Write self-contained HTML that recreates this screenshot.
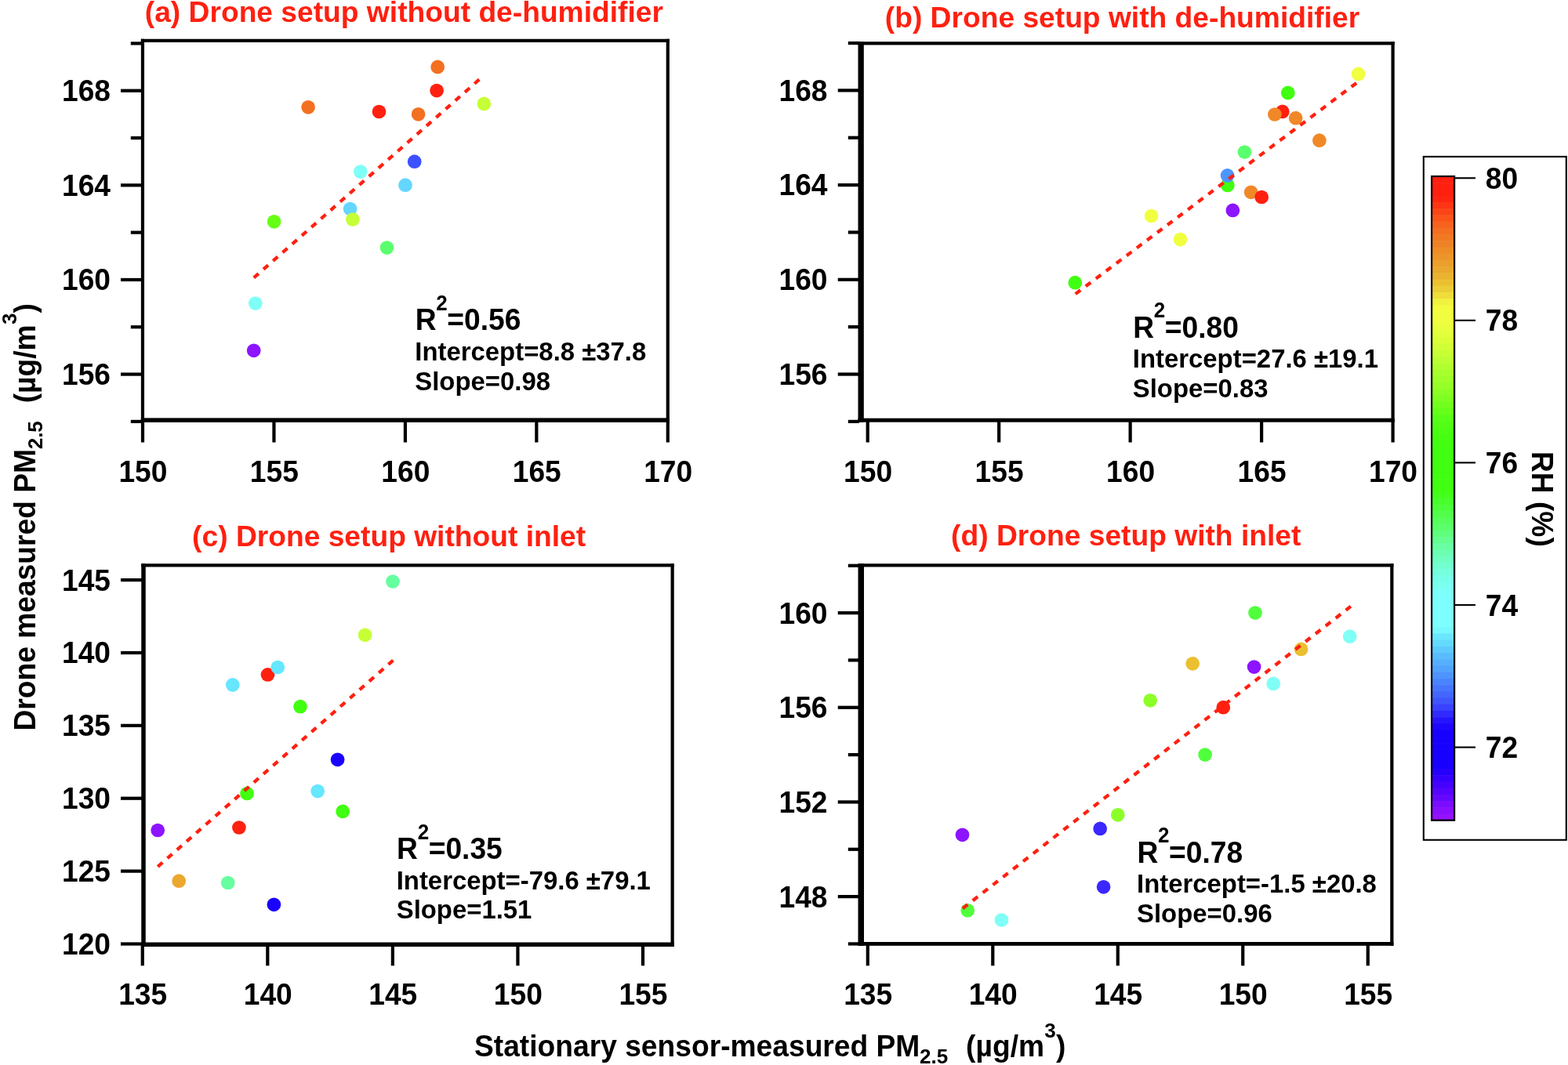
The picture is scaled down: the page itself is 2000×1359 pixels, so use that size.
<!DOCTYPE html>
<html lang="en">
<head>
<meta charset="utf-8">
<title>Drone vs stationary sensor PM2.5</title>
<style>
html,body{margin:0;padding:0;background:#fff;}
body{width:2000px;height:1359px;overflow:hidden;}
svg{display:block;font-family:"Liberation Sans",sans-serif;font-weight:bold;}
</style>
</head>
<body>
<svg width="2000" height="1359" viewBox="0 0 2000 1359">
<rect x="0" y="0" width="2000" height="1359" fill="#fff"/>
<g id="panel-a">
<circle cx="558.2" cy="85.4" r="8.85" fill="#f37021"/>
<circle cx="557.1" cy="115.6" r="8.85" fill="#ff2010"/>
<circle cx="393.1" cy="136.8" r="8.85" fill="#f37021"/>
<circle cx="483.5" cy="142.5" r="8.85" fill="#ff2010"/>
<circle cx="533.6" cy="145.8" r="8.85" fill="#f37021"/>
<circle cx="617.3" cy="132.4" r="8.85" fill="#c6ff36"/>
<circle cx="528.7" cy="206.2" r="8.85" fill="#3c50ff"/>
<circle cx="459.8" cy="219.1" r="8.85" fill="#80fff6"/>
<circle cx="517.0" cy="236.2" r="8.85" fill="#64d6ff"/>
<circle cx="446.6" cy="266.6" r="8.85" fill="#64d6ff"/>
<circle cx="449.9" cy="280.0" r="8.85" fill="#c6ff36"/>
<circle cx="349.6" cy="282.8" r="8.85" fill="#64ff14"/>
<circle cx="493.5" cy="316.1" r="8.85" fill="#5aff6e"/>
<circle cx="325.8" cy="387.1" r="8.85" fill="#80fff6"/>
<circle cx="323.7" cy="447.3" r="8.85" fill="#8c14ff"/>
<line x1="323.8" y1="354.4" x2="611.7" y2="101.1" stroke="#ff2010" stroke-width="4.3" stroke-dasharray="8.0 8.3"/>
<rect x="179.85" y="49.75" width="4.20" height="489.15" fill="#000"/>
<rect x="179.85" y="49.75" width="674.05" height="4.20" fill="#000"/>
<rect x="849.70" y="49.75" width="4.20" height="489.15" fill="#000"/>
<rect x="179.85" y="533.40" width="674.05" height="5.50" fill="#000"/>
<rect x="154.00" y="475.49" width="27.00" height="4.20" fill="#000"/>
<rect x="154.00" y="354.86" width="27.00" height="4.20" fill="#000"/>
<rect x="154.00" y="234.24" width="27.00" height="4.20" fill="#000"/>
<rect x="154.00" y="113.61" width="27.00" height="4.20" fill="#000"/>
<rect x="166.80" y="535.80" width="14.20" height="4.20" fill="#000"/>
<rect x="166.80" y="415.17" width="14.20" height="4.20" fill="#000"/>
<rect x="166.80" y="294.55" width="14.20" height="4.20" fill="#000"/>
<rect x="166.80" y="173.93" width="14.20" height="4.20" fill="#000"/>
<rect x="166.80" y="53.30" width="14.20" height="4.20" fill="#000"/>
<rect x="179.90" y="535.00" width="4.20" height="29.50" fill="#000"/>
<rect x="347.35" y="535.00" width="4.20" height="29.50" fill="#000"/>
<rect x="514.80" y="535.00" width="4.20" height="29.50" fill="#000"/>
<rect x="682.25" y="535.00" width="4.20" height="29.50" fill="#000"/>
<rect x="849.70" y="535.00" width="4.20" height="29.50" fill="#000"/>
<text transform="translate(141.00 490.99) scale(1 1.025)" font-size="37.2" text-anchor="end" fill="#000">156</text>
<text transform="translate(141.00 370.36) scale(1 1.025)" font-size="37.2" text-anchor="end" fill="#000">160</text>
<text transform="translate(141.00 249.74) scale(1 1.025)" font-size="37.2" text-anchor="end" fill="#000">164</text>
<text transform="translate(141.00 129.11) scale(1 1.025)" font-size="37.2" text-anchor="end" fill="#000">168</text>
<text transform="translate(182.40 614.60) scale(1 1.025)" font-size="37.2" text-anchor="middle" fill="#000">150</text>
<text transform="translate(349.85 614.60) scale(1 1.025)" font-size="37.2" text-anchor="middle" fill="#000">155</text>
<text transform="translate(517.30 614.60) scale(1 1.025)" font-size="37.2" text-anchor="middle" fill="#000">160</text>
<text transform="translate(684.75 614.60) scale(1 1.025)" font-size="37.2" text-anchor="middle" fill="#000">165</text>
<text transform="translate(852.20 614.60) scale(1 1.025)" font-size="37.2" text-anchor="middle" fill="#000">170</text>
<text transform="translate(184.80 27.80) scale(1 1.015)" font-size="37.2" text-anchor="start" fill="#ff2010">(a) Drone setup without de-humidifier</text>
<text transform="translate(528.90 421.20) scale(1 1.03)" font-size="37.2"><tspan x="0.8" y="0">R</tspan><tspan x="27.35" y="-24.47" font-size="26.0">2</tspan><tspan x="41.4" y="0">=0.56</tspan></text>
<text transform="translate(529.30 459.50) scale(1 1.015)" font-size="32.9" text-anchor="start" fill="#000">Intercept=8.8 ±37.8</text>
<text transform="translate(529.30 497.70) scale(1 1.015)" font-size="32.9" text-anchor="start" fill="#000">Slope=0.98</text>
</g>
<g id="panel-b">
<circle cx="1732.6" cy="94.4" r="8.85" fill="#f0ff40"/>
<circle cx="1642.8" cy="118.4" r="8.85" fill="#40ff10"/>
<circle cx="1635.8" cy="142.4" r="8.85" fill="#ff2010"/>
<circle cx="1625.9" cy="146.0" r="8.85" fill="#f08828"/>
<circle cx="1652.7" cy="150.7" r="8.85" fill="#f08828"/>
<circle cx="1682.9" cy="179.2" r="8.85" fill="#f08828"/>
<circle cx="1587.5" cy="194.0" r="8.85" fill="#5aff6e"/>
<circle cx="1565.8" cy="236.4" r="8.85" fill="#40ff10"/>
<circle cx="1565.6" cy="223.9" r="8.85" fill="#4d96ff"/>
<circle cx="1595.7" cy="245.3" r="8.85" fill="#f08828"/>
<circle cx="1609.2" cy="251.5" r="8.85" fill="#ff2010"/>
<circle cx="1572.4" cy="268.4" r="8.85" fill="#8c14ff"/>
<circle cx="1468.6" cy="275.5" r="8.85" fill="#f0ff40"/>
<circle cx="1505.5" cy="305.6" r="8.85" fill="#f0ff40"/>
<circle cx="1371.3" cy="360.7" r="8.85" fill="#40ff10"/>
<line x1="1371.8" y1="375.1" x2="1730.9" y2="105.4" stroke="#ff2010" stroke-width="4.3" stroke-dasharray="8.0 8.3"/>
<rect x="1094.50" y="53.20" width="7.30" height="485.50" fill="#000"/>
<rect x="1094.50" y="53.20" width="684.20" height="4.20" fill="#000"/>
<rect x="1774.50" y="53.20" width="4.20" height="485.50" fill="#000"/>
<rect x="1094.50" y="533.70" width="684.20" height="5.00" fill="#000"/>
<rect x="1068.75" y="475.44" width="27.25" height="4.20" fill="#000"/>
<rect x="1068.75" y="354.71" width="27.25" height="4.20" fill="#000"/>
<rect x="1068.75" y="233.99" width="27.25" height="4.20" fill="#000"/>
<rect x="1068.75" y="113.26" width="27.25" height="4.20" fill="#000"/>
<rect x="1081.80" y="535.80" width="14.20" height="4.20" fill="#000"/>
<rect x="1081.80" y="415.07" width="14.20" height="4.20" fill="#000"/>
<rect x="1081.80" y="294.35" width="14.20" height="4.20" fill="#000"/>
<rect x="1081.80" y="173.62" width="14.20" height="4.20" fill="#000"/>
<rect x="1081.80" y="52.90" width="14.20" height="4.20" fill="#000"/>
<rect x="1104.60" y="535.00" width="4.20" height="29.50" fill="#000"/>
<rect x="1272.08" y="535.00" width="4.20" height="29.50" fill="#000"/>
<rect x="1439.55" y="535.00" width="4.20" height="29.50" fill="#000"/>
<rect x="1607.03" y="535.00" width="4.20" height="29.50" fill="#000"/>
<rect x="1774.50" y="535.00" width="4.20" height="29.50" fill="#000"/>
<text transform="translate(1055.50 490.94) scale(1 1.025)" font-size="37.2" text-anchor="end" fill="#000">156</text>
<text transform="translate(1055.50 370.21) scale(1 1.025)" font-size="37.2" text-anchor="end" fill="#000">160</text>
<text transform="translate(1055.50 249.49) scale(1 1.025)" font-size="37.2" text-anchor="end" fill="#000">164</text>
<text transform="translate(1055.50 128.76) scale(1 1.025)" font-size="37.2" text-anchor="end" fill="#000">168</text>
<text transform="translate(1107.10 614.60) scale(1 1.025)" font-size="37.2" text-anchor="middle" fill="#000">150</text>
<text transform="translate(1274.58 614.60) scale(1 1.025)" font-size="37.2" text-anchor="middle" fill="#000">155</text>
<text transform="translate(1442.05 614.60) scale(1 1.025)" font-size="37.2" text-anchor="middle" fill="#000">160</text>
<text transform="translate(1609.53 614.60) scale(1 1.025)" font-size="37.2" text-anchor="middle" fill="#000">165</text>
<text transform="translate(1777.00 614.60) scale(1 1.025)" font-size="37.2" text-anchor="middle" fill="#000">170</text>
<text transform="translate(1128.80 34.50) scale(1 1.015)" font-size="37.2" text-anchor="start" fill="#ff2010">(b) Drone setup with de-humidifier</text>
<text transform="translate(1444.40 430.60) scale(1 1.03)" font-size="37.2"><tspan x="0.8" y="0">R</tspan><tspan x="27.35" y="-24.47" font-size="26.0">2</tspan><tspan x="41.4" y="0">=0.80</tspan></text>
<text transform="translate(1444.80 469.30) scale(1 1.015)" font-size="32.9" text-anchor="start" fill="#000">Intercept=27.6 ±19.1</text>
<text transform="translate(1444.80 506.70) scale(1 1.015)" font-size="32.9" text-anchor="start" fill="#000">Slope=0.83</text>
</g>
<g id="panel-c">
<circle cx="501.0" cy="742.0" r="8.85" fill="#66ffa0"/>
<circle cx="465.6" cy="810.3" r="8.85" fill="#c6ff36"/>
<circle cx="341.5" cy="860.9" r="8.85" fill="#ff2010"/>
<circle cx="354.3" cy="851.5" r="8.85" fill="#66e6ff"/>
<circle cx="296.8" cy="873.9" r="8.85" fill="#66e6ff"/>
<circle cx="383.0" cy="901.7" r="8.85" fill="#40ff10"/>
<circle cx="430.6" cy="969.3" r="8.85" fill="#1a00ff"/>
<circle cx="315.0" cy="1012.5" r="8.85" fill="#40ff10"/>
<circle cx="405.2" cy="1009.6" r="8.85" fill="#66e6ff"/>
<circle cx="437.2" cy="1035.4" r="8.85" fill="#40ff10"/>
<circle cx="304.9" cy="1056.0" r="8.85" fill="#ff2010"/>
<circle cx="201.2" cy="1059.5" r="8.85" fill="#8c14ff"/>
<circle cx="228.2" cy="1124.2" r="8.85" fill="#eba830"/>
<circle cx="290.7" cy="1126.5" r="8.85" fill="#66ffa0"/>
<circle cx="349.4" cy="1154.3" r="8.85" fill="#1a00ff"/>
<line x1="201.3" y1="1105.9" x2="502.0" y2="842.2" stroke="#ff2010" stroke-width="4.3" stroke-dasharray="8.0 8.3"/>
<rect x="180.25" y="719.25" width="5.50" height="488.75" fill="#000"/>
<rect x="180.25" y="719.25" width="679.50" height="4.20" fill="#000"/>
<rect x="855.55" y="719.25" width="4.20" height="488.75" fill="#000"/>
<rect x="180.25" y="1202.50" width="679.50" height="5.50" fill="#000"/>
<rect x="154.00" y="1202.40" width="27.00" height="4.20" fill="#000"/>
<rect x="154.00" y="1109.52" width="27.00" height="4.20" fill="#000"/>
<rect x="154.00" y="1016.64" width="27.00" height="4.20" fill="#000"/>
<rect x="154.00" y="923.76" width="27.00" height="4.20" fill="#000"/>
<rect x="154.00" y="830.88" width="27.00" height="4.20" fill="#000"/>
<rect x="154.00" y="738.00" width="27.00" height="4.20" fill="#000"/>
<rect x="179.65" y="1203.00" width="4.20" height="29.30" fill="#000"/>
<rect x="339.21" y="1203.00" width="4.20" height="29.30" fill="#000"/>
<rect x="498.77" y="1203.00" width="4.20" height="29.30" fill="#000"/>
<rect x="658.34" y="1203.00" width="4.20" height="29.30" fill="#000"/>
<rect x="817.90" y="1203.00" width="4.20" height="29.30" fill="#000"/>
<text transform="translate(141.00 1217.90) scale(1 1.025)" font-size="37.2" text-anchor="end" fill="#000">120</text>
<text transform="translate(141.00 1125.02) scale(1 1.025)" font-size="37.2" text-anchor="end" fill="#000">125</text>
<text transform="translate(141.00 1032.14) scale(1 1.025)" font-size="37.2" text-anchor="end" fill="#000">130</text>
<text transform="translate(141.00 939.26) scale(1 1.025)" font-size="37.2" text-anchor="end" fill="#000">135</text>
<text transform="translate(141.00 846.38) scale(1 1.025)" font-size="37.2" text-anchor="end" fill="#000">140</text>
<text transform="translate(141.00 753.50) scale(1 1.025)" font-size="37.2" text-anchor="end" fill="#000">145</text>
<text transform="translate(182.15 1282.20) scale(1 1.025)" font-size="37.2" text-anchor="middle" fill="#000">135</text>
<text transform="translate(341.71 1282.20) scale(1 1.025)" font-size="37.2" text-anchor="middle" fill="#000">140</text>
<text transform="translate(501.27 1282.20) scale(1 1.025)" font-size="37.2" text-anchor="middle" fill="#000">145</text>
<text transform="translate(660.84 1282.20) scale(1 1.025)" font-size="37.2" text-anchor="middle" fill="#000">150</text>
<text transform="translate(820.40 1282.20) scale(1 1.025)" font-size="37.2" text-anchor="middle" fill="#000">155</text>
<text transform="translate(245.10 696.60) scale(1 1.015)" font-size="37.2" text-anchor="start" fill="#ff2010">(c) Drone setup without inlet</text>
<text transform="translate(505.30 1096.20) scale(1 1.03)" font-size="37.2"><tspan x="0.8" y="0">R</tspan><tspan x="27.35" y="-24.47" font-size="26.0">2</tspan><tspan x="41.4" y="0">=0.35</tspan></text>
<text transform="translate(505.70 1134.50) scale(1 1.015)" font-size="32.9" text-anchor="start" fill="#000">Intercept=-79.6 ±79.1</text>
<text transform="translate(505.70 1172.30) scale(1 1.015)" font-size="32.9" text-anchor="start" fill="#000">Slope=1.51</text>
</g>
<g id="panel-d">
<circle cx="1601.0" cy="782.0" r="8.85" fill="#50ff3c"/>
<circle cx="1721.7" cy="812.2" r="8.85" fill="#80fff6"/>
<circle cx="1659.6" cy="828.4" r="8.85" fill="#ebc030"/>
<circle cx="1521.2" cy="846.8" r="8.85" fill="#ebc030"/>
<circle cx="1599.6" cy="851.1" r="8.85" fill="#8c14ff"/>
<circle cx="1624.2" cy="872.4" r="8.85" fill="#80fff6"/>
<circle cx="1467.2" cy="893.8" r="8.85" fill="#8cff28"/>
<circle cx="1560.3" cy="902.7" r="8.85" fill="#ff2010"/>
<circle cx="1537.1" cy="963.1" r="8.85" fill="#50ff3c"/>
<circle cx="1425.8" cy="1039.8" r="8.85" fill="#8cff28"/>
<circle cx="1403.2" cy="1057.4" r="8.85" fill="#3a28ff"/>
<circle cx="1227.5" cy="1065.3" r="8.85" fill="#8c14ff"/>
<circle cx="1407.6" cy="1131.8" r="8.85" fill="#3a28ff"/>
<circle cx="1234.2" cy="1161.8" r="8.85" fill="#50ff3c"/>
<circle cx="1277.4" cy="1174.0" r="8.85" fill="#80fff6"/>
<line x1="1227.9" y1="1159.2" x2="1723.0" y2="773.7" stroke="#ff2010" stroke-width="4.3" stroke-dasharray="8.0 8.3"/>
<rect x="1094.50" y="719.25" width="7.50" height="487.55" fill="#000"/>
<rect x="1094.50" y="719.25" width="682.95" height="4.20" fill="#000"/>
<rect x="1773.25" y="719.25" width="4.20" height="487.55" fill="#000"/>
<rect x="1094.50" y="1202.00" width="682.95" height="4.80" fill="#000"/>
<rect x="1068.75" y="1142.00" width="27.25" height="4.20" fill="#000"/>
<rect x="1068.75" y="1021.33" width="27.25" height="4.20" fill="#000"/>
<rect x="1068.75" y="900.67" width="27.25" height="4.20" fill="#000"/>
<rect x="1068.75" y="780.00" width="27.25" height="4.20" fill="#000"/>
<rect x="1081.80" y="1202.33" width="14.20" height="4.20" fill="#000"/>
<rect x="1081.80" y="1081.67" width="14.20" height="4.20" fill="#000"/>
<rect x="1081.80" y="961.00" width="14.20" height="4.20" fill="#000"/>
<rect x="1081.80" y="840.33" width="14.20" height="4.20" fill="#000"/>
<rect x="1081.80" y="719.67" width="14.20" height="4.20" fill="#000"/>
<rect x="1104.70" y="1203.00" width="4.20" height="29.30" fill="#000"/>
<rect x="1264.19" y="1203.00" width="4.20" height="29.30" fill="#000"/>
<rect x="1423.68" y="1203.00" width="4.20" height="29.30" fill="#000"/>
<rect x="1583.16" y="1203.00" width="4.20" height="29.30" fill="#000"/>
<rect x="1742.65" y="1203.00" width="4.20" height="29.30" fill="#000"/>
<text transform="translate(1055.50 1157.50) scale(1 1.025)" font-size="37.2" text-anchor="end" fill="#000">148</text>
<text transform="translate(1055.50 1036.83) scale(1 1.025)" font-size="37.2" text-anchor="end" fill="#000">152</text>
<text transform="translate(1055.50 916.17) scale(1 1.025)" font-size="37.2" text-anchor="end" fill="#000">156</text>
<text transform="translate(1055.50 795.50) scale(1 1.025)" font-size="37.2" text-anchor="end" fill="#000">160</text>
<text transform="translate(1107.20 1282.20) scale(1 1.025)" font-size="37.2" text-anchor="middle" fill="#000">135</text>
<text transform="translate(1266.69 1282.20) scale(1 1.025)" font-size="37.2" text-anchor="middle" fill="#000">140</text>
<text transform="translate(1426.18 1282.20) scale(1 1.025)" font-size="37.2" text-anchor="middle" fill="#000">145</text>
<text transform="translate(1585.66 1282.20) scale(1 1.025)" font-size="37.2" text-anchor="middle" fill="#000">150</text>
<text transform="translate(1745.15 1282.20) scale(1 1.025)" font-size="37.2" text-anchor="middle" fill="#000">155</text>
<text transform="translate(1213.10 695.60) scale(1 1.015)" font-size="37.2" text-anchor="start" fill="#ff2010">(d) Drone setup with inlet</text>
<text transform="translate(1449.60 1100.50) scale(1 1.03)" font-size="37.2"><tspan x="0.8" y="0">R</tspan><tspan x="27.35" y="-24.47" font-size="26.0">2</tspan><tspan x="41.4" y="0">=0.78</tspan></text>
<text transform="translate(1450.00 1139.20) scale(1 1.015)" font-size="32.9" text-anchor="start" fill="#000">Intercept=-1.5 ±20.8</text>
<text transform="translate(1450.00 1177.20) scale(1 1.015)" font-size="32.9" text-anchor="start" fill="#000">Slope=0.96</text>
</g>
<g id="x-axis-label" transform="translate(605.0 1348.3)">
<text transform="scale(1 1.02)" font-size="37.2"><tspan x="0" y="0">Stationary sensor-measured PM</tspan><tspan x="568.12" y="8.33" font-size="26.0">2.5 </tspan><tspan x="627.12" y="0">(µg/m</tspan><tspan x="727.32" y="-24.31" font-size="26.0">3</tspan><tspan x="741.92" y="0">)</tspan></text>
</g>
<g id="y-axis-label" transform="translate(45.3 932.6) rotate(-90)">
<text transform="scale(1 1.02)" font-size="37.2"><tspan x="0" y="0">Drone measured PM</tspan><tspan x="359.31" y="8.33" font-size="26.0">2.5 </tspan><tspan x="418.31" y="0">(µg/m</tspan><tspan x="518.51" y="-24.31" font-size="26.0">3</tspan><tspan x="533.11" y="0">)</tspan></text>
</g>
<g id="colorbar">
<rect x="1815.8" y="199.9" width="182.0" height="871.9" fill="#fff" stroke="#000" stroke-width="2.1"/>
<rect x="1826.1" y="225.00" width="29.0" height="8.82" fill="#ff2010"/>
<rect x="1826.1" y="233.22" width="29.0" height="8.82" fill="#ff2010"/>
<rect x="1826.1" y="241.43" width="29.0" height="8.82" fill="#ff2010"/>
<rect x="1826.1" y="249.65" width="29.0" height="8.82" fill="#ff2611"/>
<rect x="1826.1" y="257.87" width="29.0" height="8.82" fill="#fd3514"/>
<rect x="1826.1" y="266.08" width="29.0" height="8.82" fill="#fc4517"/>
<rect x="1826.1" y="274.30" width="29.0" height="8.82" fill="#fa541b"/>
<rect x="1826.1" y="282.52" width="29.0" height="8.82" fill="#f7621e"/>
<rect x="1826.1" y="290.74" width="29.0" height="8.82" fill="#f46f21"/>
<rect x="1826.1" y="298.95" width="29.0" height="8.82" fill="#f27923"/>
<rect x="1826.1" y="307.17" width="29.0" height="8.82" fill="#ef8226"/>
<rect x="1826.1" y="315.39" width="29.0" height="8.82" fill="#ee8c28"/>
<rect x="1826.1" y="323.60" width="29.0" height="8.82" fill="#ed952a"/>
<rect x="1826.1" y="331.82" width="29.0" height="8.82" fill="#ec9f2c"/>
<rect x="1826.1" y="340.04" width="29.0" height="8.82" fill="#eba82e"/>
<rect x="1826.1" y="348.25" width="29.0" height="8.82" fill="#ebb230"/>
<rect x="1826.1" y="356.47" width="29.0" height="8.82" fill="#ecbf33"/>
<rect x="1826.1" y="364.69" width="29.0" height="8.82" fill="#edcd37"/>
<rect x="1826.1" y="372.91" width="29.0" height="8.82" fill="#efdd3b"/>
<rect x="1826.1" y="381.12" width="29.0" height="8.82" fill="#f1f23e"/>
<rect x="1826.1" y="389.34" width="29.0" height="8.82" fill="#f2fd40"/>
<rect x="1826.1" y="397.56" width="29.0" height="8.82" fill="#f1fe40"/>
<rect x="1826.1" y="405.77" width="29.0" height="8.82" fill="#efff40"/>
<rect x="1826.1" y="413.99" width="29.0" height="8.82" fill="#e8ff3d"/>
<rect x="1826.1" y="422.21" width="29.0" height="8.82" fill="#e1ff3b"/>
<rect x="1826.1" y="430.43" width="29.0" height="8.82" fill="#daff39"/>
<rect x="1826.1" y="438.64" width="29.0" height="8.82" fill="#d1ff37"/>
<rect x="1826.1" y="446.86" width="29.0" height="8.82" fill="#c7ff35"/>
<rect x="1826.1" y="455.08" width="29.0" height="8.82" fill="#bdff33"/>
<rect x="1826.1" y="463.29" width="29.0" height="8.82" fill="#b2ff30"/>
<rect x="1826.1" y="471.51" width="29.0" height="8.82" fill="#a7ff2d"/>
<rect x="1826.1" y="479.73" width="29.0" height="8.82" fill="#9eff2a"/>
<rect x="1826.1" y="487.94" width="29.0" height="8.82" fill="#96ff27"/>
<rect x="1826.1" y="496.16" width="29.0" height="8.82" fill="#8aff24"/>
<rect x="1826.1" y="504.38" width="29.0" height="8.82" fill="#7fff21"/>
<rect x="1826.1" y="512.60" width="29.0" height="8.82" fill="#73ff1e"/>
<rect x="1826.1" y="520.81" width="29.0" height="8.82" fill="#66ff1a"/>
<rect x="1826.1" y="529.03" width="29.0" height="8.82" fill="#5aff17"/>
<rect x="1826.1" y="537.25" width="29.0" height="8.82" fill="#52ff14"/>
<rect x="1826.1" y="545.46" width="29.0" height="8.82" fill="#4aff11"/>
<rect x="1826.1" y="553.68" width="29.0" height="8.82" fill="#46ff10"/>
<rect x="1826.1" y="561.90" width="29.0" height="8.82" fill="#42ff10"/>
<rect x="1826.1" y="570.11" width="29.0" height="8.82" fill="#40ff10"/>
<rect x="1826.1" y="578.33" width="29.0" height="8.82" fill="#40ff10"/>
<rect x="1826.1" y="586.55" width="29.0" height="8.82" fill="#40ff10"/>
<rect x="1826.1" y="594.77" width="29.0" height="8.82" fill="#40ff10"/>
<rect x="1826.1" y="602.98" width="29.0" height="8.82" fill="#40ff10"/>
<rect x="1826.1" y="611.20" width="29.0" height="8.82" fill="#40ff10"/>
<rect x="1826.1" y="619.42" width="29.0" height="8.82" fill="#40ff10"/>
<rect x="1826.1" y="627.63" width="29.0" height="8.82" fill="#43ff1c"/>
<rect x="1826.1" y="635.85" width="29.0" height="8.82" fill="#47ff2b"/>
<rect x="1826.1" y="644.07" width="29.0" height="8.82" fill="#4cff3b"/>
<rect x="1826.1" y="652.28" width="29.0" height="8.82" fill="#51ff4b"/>
<rect x="1826.1" y="660.50" width="29.0" height="8.82" fill="#56ff5b"/>
<rect x="1826.1" y="668.72" width="29.0" height="8.82" fill="#5aff6a"/>
<rect x="1826.1" y="676.93" width="29.0" height="8.82" fill="#5fff7d"/>
<rect x="1826.1" y="685.15" width="29.0" height="8.82" fill="#64ff90"/>
<rect x="1826.1" y="693.37" width="29.0" height="8.82" fill="#69ffa3"/>
<rect x="1826.1" y="701.59" width="29.0" height="8.82" fill="#6cffb3"/>
<rect x="1826.1" y="709.80" width="29.0" height="8.82" fill="#6fffc3"/>
<rect x="1826.1" y="718.02" width="29.0" height="8.82" fill="#72ffd0"/>
<rect x="1826.1" y="726.24" width="29.0" height="8.82" fill="#75ffdd"/>
<rect x="1826.1" y="734.45" width="29.0" height="8.82" fill="#78ffe9"/>
<rect x="1826.1" y="742.67" width="29.0" height="8.82" fill="#7afff0"/>
<rect x="1826.1" y="750.89" width="29.0" height="8.82" fill="#7cfff8"/>
<rect x="1826.1" y="759.11" width="29.0" height="8.82" fill="#7cfffc"/>
<rect x="1826.1" y="767.32" width="29.0" height="8.82" fill="#7cfffe"/>
<rect x="1826.1" y="775.54" width="29.0" height="8.82" fill="#7cfffe"/>
<rect x="1826.1" y="783.76" width="29.0" height="8.82" fill="#7cfffe"/>
<rect x="1826.1" y="791.97" width="29.0" height="8.82" fill="#7cfffe"/>
<rect x="1826.1" y="800.19" width="29.0" height="8.82" fill="#77f8fe"/>
<rect x="1826.1" y="808.41" width="29.0" height="8.82" fill="#6be6fe"/>
<rect x="1826.1" y="816.62" width="29.0" height="8.82" fill="#63dafe"/>
<rect x="1826.1" y="824.84" width="29.0" height="8.82" fill="#5ecafe"/>
<rect x="1826.1" y="833.06" width="29.0" height="8.82" fill="#59bcfe"/>
<rect x="1826.1" y="841.28" width="29.0" height="8.82" fill="#56affe"/>
<rect x="1826.1" y="849.49" width="29.0" height="8.82" fill="#52a3fe"/>
<rect x="1826.1" y="857.71" width="29.0" height="8.82" fill="#4d94fe"/>
<rect x="1826.1" y="865.93" width="29.0" height="8.82" fill="#4985fe"/>
<rect x="1826.1" y="874.14" width="29.0" height="8.82" fill="#4675fe"/>
<rect x="1826.1" y="882.36" width="29.0" height="8.82" fill="#4366fe"/>
<rect x="1826.1" y="890.58" width="29.0" height="8.82" fill="#3f56fe"/>
<rect x="1826.1" y="898.79" width="29.0" height="8.82" fill="#3942fe"/>
<rect x="1826.1" y="907.01" width="29.0" height="8.82" fill="#302afe"/>
<rect x="1826.1" y="915.23" width="29.0" height="8.82" fill="#2614fe"/>
<rect x="1826.1" y="923.45" width="29.0" height="8.82" fill="#1e06ff"/>
<rect x="1826.1" y="931.66" width="29.0" height="8.82" fill="#1800ff"/>
<rect x="1826.1" y="939.88" width="29.0" height="8.82" fill="#1800ff"/>
<rect x="1826.1" y="948.10" width="29.0" height="8.82" fill="#1800ff"/>
<rect x="1826.1" y="956.31" width="29.0" height="8.82" fill="#1800ff"/>
<rect x="1826.1" y="964.53" width="29.0" height="8.82" fill="#1800ff"/>
<rect x="1826.1" y="972.75" width="29.0" height="8.82" fill="#1900ff"/>
<rect x="1826.1" y="980.96" width="29.0" height="8.82" fill="#2600ff"/>
<rect x="1826.1" y="989.18" width="29.0" height="8.82" fill="#3600ff"/>
<rect x="1826.1" y="997.40" width="29.0" height="8.82" fill="#4602ff"/>
<rect x="1826.1" y="1005.62" width="29.0" height="8.82" fill="#5505ff"/>
<rect x="1826.1" y="1013.83" width="29.0" height="8.82" fill="#6608ff"/>
<rect x="1826.1" y="1022.05" width="29.0" height="8.82" fill="#7a0cff"/>
<rect x="1826.1" y="1030.27" width="29.0" height="8.82" fill="#890fff"/>
<rect x="1826.1" y="1038.48" width="29.0" height="8.82" fill="#9512ff"/>
<rect x="1826.1" y="225.0" width="29.0" height="821.7" fill="none" stroke="#000" stroke-width="2.2"/>
<rect x="1856.00" y="952.52" width="26.00" height="2.10" fill="#000"/>
<text transform="translate(1894.80 967.17) scale(1 1.025)" font-size="37.2" text-anchor="start" fill="#000">72</text>
<rect x="1856.00" y="770.94" width="26.00" height="2.10" fill="#000"/>
<text transform="translate(1894.80 785.59) scale(1 1.025)" font-size="37.2" text-anchor="start" fill="#000">74</text>
<rect x="1856.00" y="589.36" width="26.00" height="2.10" fill="#000"/>
<text transform="translate(1894.80 604.01) scale(1 1.025)" font-size="37.2" text-anchor="start" fill="#000">76</text>
<rect x="1856.00" y="407.78" width="26.00" height="2.10" fill="#000"/>
<text transform="translate(1894.80 422.43) scale(1 1.025)" font-size="37.2" text-anchor="start" fill="#000">78</text>
<rect x="1856.00" y="226.20" width="26.00" height="2.10" fill="#000"/>
<text transform="translate(1894.80 240.85) scale(1 1.025)" font-size="37.2" text-anchor="start" fill="#000">80</text>
<text transform="translate(1954.2 575.9) rotate(90) scale(1 1.035)" font-size="37.2">RH (%)</text>
</g>
</svg>
</body>
</html>
